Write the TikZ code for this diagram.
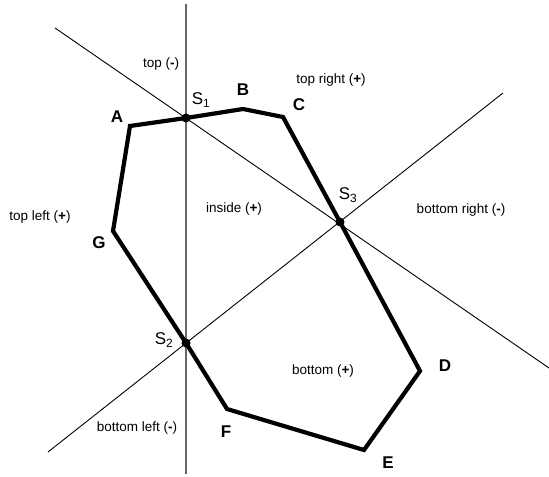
\documentclass[tikz,border=0pt]{standalone}
\usepackage{fontspec}
\setmainfont{Liberation Sans}
\begin{document}
\begin{tikzpicture}[x=1bp,y=-1bp,
  thinline/.style={line width=0.9bp,black},
  vline/.style={line width=1.1bp,black!60},
  poly/.style={line width=4.2bp,line join=miter,black},
  dotpt/.style={circle,fill=black,inner sep=0pt,minimum size=9bp},
  region/.style={font=\fontsize{13.5bp}{15bp}\selectfont,inner sep=0pt},
  vlabel/.style={font=\fontsize{17bp}{19bp}\selectfont\bfseries,inner sep=0pt},
  slabel/.style={font=\fontsize{17bp}{19bp}\selectfont,inner sep=0pt}]
\useasboundingbox (0,0) rectangle (549,477);
% line ends
\coordinate (v1) at (186,4);
\coordinate (v2) at (186,474);
\coordinate (l1a) at (55,28);
\coordinate (l1b) at (549,368);
\coordinate (l2a) at (48,452);
\coordinate (l2b) at (503,93);
% polygon vertices
\coordinate (A) at (130,126);
\coordinate (S1) at (186,118);
\coordinate (B) at (243,109);
\coordinate (C) at (283,117);
\coordinate (S3) at (340,222);
\coordinate (D) at (420,371);
\coordinate (E) at (364,450);
\coordinate (F) at (227,409);
\coordinate (S2) at (186,343);
\coordinate (G) at (113,231);
% lines
\draw[vline] (v1) -- (v2);
\draw[thinline] (l1a) -- (l1b);
\draw[thinline] (l2a) -- (l2b);
% polygon
\draw[poly] (A) -- (S1) -- (B) -- (C) -- (S3) -- (D) -- (E) -- (F) -- (S2) -- (G) -- cycle;
% intersection dots
\node[dotpt] (d1) at (S1) {};
\node[dotpt] (d2) at (S2) {};
\node[dotpt] (d3) at (S3) {};
% vertex labels
\node[vlabel] (tA) at (117,117) {A};
\node[vlabel] (tB) at (243,90) {B};
\node[vlabel] (tC) at (299,105) {C};
\node[vlabel] (tD) at (445,366) {D};
\node[vlabel] (tE) at (388,463) {E};
\node[vlabel] (tF) at (226,432) {F};
\node[vlabel] (tG) at (99,243) {G};
\node[slabel] (tS1) at (201,100) {S\textsubscript{1}};
\node[slabel] (tS2) at (164,340) {S\textsubscript{2}};
\node[slabel] (tS3) at (348,195) {S\textsubscript{3}};
% region labels
\node[region] (rt) at (161,64) {top ({\bfseries -})};
\node[region] (rtr) at (331,80) {top right ({\bfseries +})};
\node[region] (ri) at (234,209) {inside ({\bfseries +})};
\node[region] (rbr) at (461,210) {bottom right ({\bfseries -})};
\node[region] (rtl) at (40,217) {top left ({\bfseries +})};
\node[region] (rb) at (323,371) {bottom ({\bfseries +})};
\node[region] (rbl) at (137,428) {bottom left ({\bfseries -})};
\end{tikzpicture}
\end{document}
